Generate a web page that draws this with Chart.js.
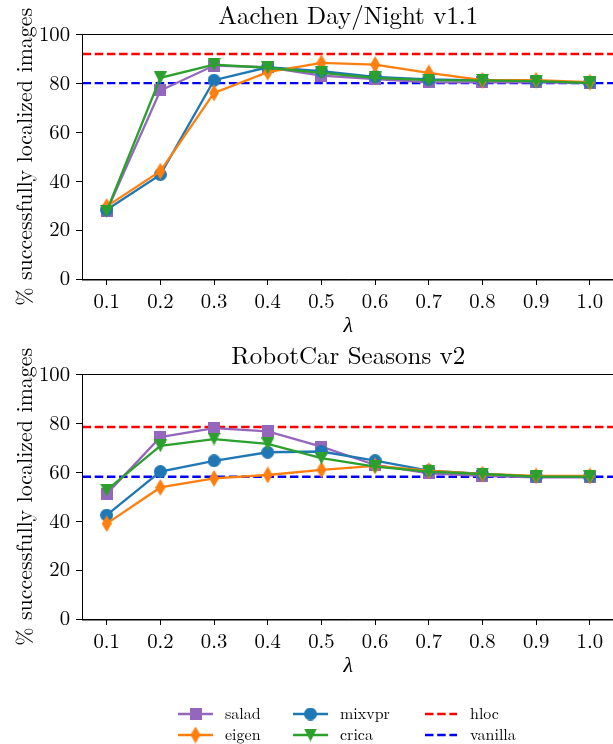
<!DOCTYPE html>
<html><head><meta charset="utf-8">
<script src="https://cdn.jsdelivr.net/npm/chart.js@4.4.1/dist/chart.umd.min.js"></script>
<style>
html,body{margin:0;padding:0;background:#fff;overflow:hidden;width:613px;height:744px;}
#wrap{position:relative;width:613px;height:744px;overflow:hidden;background:#fff;}
canvas{position:absolute;left:0;display:block;}
#fontwarm{position:absolute;left:-9999px;top:0;font-family:'Latin Modern Roman';font-size:20px;}
#fontwarm2{position:absolute;left:-9999px;top:30px;font-family:'Liberation Serif';font-style:italic;font-size:20px;}
</style></head><body>
<div id="fontwarm">Aachen 0.1 % successfully localized images salad eigen</div>
<div id="fontwarm2">λ</div>
<div id="wrap">
<canvas id="c1" width="620" height="340" style="top:0;width:620px;height:340px"></canvas>
<canvas id="c2" width="620" height="404" style="top:340px;width:620px;height:404px"></canvas>
</div>
<script>
// ---------- data ----------
const lambdas = [0.1, 0.2, 0.3, 0.4, 0.5, 0.6, 0.7, 0.8, 0.9, 1.0];
const xTickLabels = ['0.1','0.2','0.3','0.4','0.5','0.6','0.7','0.8','0.9','1.0'];
const yTicks = [0, 20, 40, 60, 80, 100];
const seriesNames = ['salad', 'eigen', 'mixvpr', 'crica'];
const refNames = ['hloc', 'vanilla'];

const aachenTitle = 'Aachen Day/Night v1.1';
const aachenSalad  = [27.7, 77.1, 87.3, 86.6, 83.2, 81.8, 80.4, 80.4, 80.4, 80.1];
const aachenEigen  = [29.7, 44.1, 76.1, 84.6, 88.4, 87.7, 84.3, 81.3, 81.3, 80.5];
const aachenMixvpr = [28.3, 42.7, 81.3, 86.6, 85.0, 82.7, 81.6, 81.2, 80.9, 80.2];
const aachenCrica  = [27.7, 82.3, 87.7, 86.4, 84.3, 82.3, 81.3, 81.2, 80.9, 80.2];
const aachenHloc = 92.0;
const aachenVanilla = 80.1;

const robotcarTitle = 'RobotCar Seasons v2';
const robotcarSalad  = [51.1, 74.4, 78.1, 76.7, 70.5, 63.0, 59.6, 58.5, 57.9, 57.9];
const robotcarEigen  = [39.0, 53.8, 57.5, 58.9, 61.0, 62.6, 60.7, 59.3, 58.5, 58.5];
const robotcarMixvpr = [42.5, 60.3, 64.7, 68.2, 68.5, 64.8, 60.7, 59.3, 58.2, 58.2];
const robotcarCrica  = [52.7, 70.8, 73.6, 71.6, 65.8, 62.3, 60.3, 59.3, 58.2, 58.2];
const robotcarHloc = 78.5;
const robotcarVanilla = 58.2;

// ---------- styles ----------
const FONT = '"Latin Modern Roman", "Liberation Serif", serif';
const LAMBDA_FONT = '"Liberation Serif", serif';
const X_MIN = 0.055, X_MAX = 1.045;
const colors = {salad:'#9467bd', eigen:'#ff7f0e', mixvpr:'#1f77b4', crica:'#2ca02c', hloc:'#ff0000', vanilla:'#0000ff'};
const drawOrder = {hloc:6, vanilla:5, salad:4, mixvpr:3, eigen:2, crica:1};

function makeMarker(kind, color) {
  const sizes = {square:[12,12], diamond:[10,17], circle:[13,13], tri:[13,13]};
  const [w, h] = sizes[kind];
  const c = document.createElement('canvas');
  c.width = w; c.height = h;
  const g = c.getContext('2d');
  g.fillStyle = color;
  g.beginPath();
  if (kind === 'square') g.rect(0, 0, w, h);
  else if (kind === 'diamond') { g.moveTo(w/2,0); g.lineTo(w,h/2); g.lineTo(w/2,h); g.lineTo(0,h/2); g.closePath(); }
  else if (kind === 'circle') g.arc(w/2, h/2, w/2, 0, Math.PI*2);
  else { g.moveTo(0,0); g.lineTo(w,0); g.lineTo(w/2,h); g.closePath(); }
  g.fill();
  return c;
}
const markers = {
  salad: makeMarker('square', colors.salad),
  eigen: makeMarker('diamond', colors.eigen),
  mixvpr: makeMarker('circle', colors.mixvpr),
  crica: makeMarker('tri', colors.crica)
};
const LINE_W = 2.3, DASH = [8.5, 3.7], DASH_W = 2.4;

const framePlugin = {
  id: 'frame',
  afterDatasetsDraw(chart) {
    const a = chart.chartArea, ctx = chart.ctx;
    ctx.save();
    ctx.strokeStyle = '#000'; ctx.lineWidth = 1;
    ctx.strokeRect(Math.round(a.left) + 0.5 - 1, Math.round(a.top) + 0.5 - 1, a.right - a.left, a.bottom - a.top + 1);
    ctx.restore();
  }
};

const legendPlugin = {
  id: 'customLegend',
  afterDraw(chart, args, opts) {
    if (!opts || !opts.items) return;
    const ctx = chart.ctx;
    ctx.save();
    ctx.font = '16px ' + FONT;
    ctx.fillStyle = '#000';
    ctx.textBaseline = 'alphabetic';
    for (const it of opts.items) {
      ctx.beginPath();
      ctx.strokeStyle = colors[it.name];
      if (it.dash) { ctx.setLineDash(DASH); ctx.lineWidth = DASH_W; }
      else { ctx.setLineDash([]); ctx.lineWidth = LINE_W; }
      ctx.moveTo(it.x0, it.y); ctx.lineTo(it.x1, it.y); ctx.stroke();
      ctx.setLineDash([]);
      if (markers[it.name]) {
        const m = markers[it.name];
        ctx.drawImage(m, (it.x0 + it.x1) / 2 - m.width / 2, it.y - m.height / 2);
      }
      ctx.fillText(it.name, it.tx, it.y + 4.5);
    }
    ctx.restore();
  }
};

function buildChart(id, title, values, hloc, vanilla, legendItems) {
  const datasets = [];
  seriesNames.forEach((name, i) => {
    datasets.push({
      label: name,
      data: lambdas.map((l, j) => ({x: l, y: values[i][j]})),
      borderColor: colors[name], backgroundColor: colors[name],
      borderWidth: LINE_W, pointStyle: markers[name], pointRadius: 6,
      pointBorderWidth: 0, order: drawOrder[name], tension: 0, clip: false
    });
  });
  [[refNames[0], hloc], [refNames[1], vanilla]].forEach(([name, v]) => {
    datasets.push({
      label: name,
      data: [{x: X_MIN, y: v}, {x: X_MAX, y: v}],
      borderColor: colors[name], borderWidth: DASH_W, borderDash: DASH,
      pointRadius: 0, order: drawOrder[name]
    });
  });
  const bottomPad = legendItems ? 64 : 0;
  return new Chart(document.getElementById(id), {
    type: 'line',
    data: {datasets},
    options: {
      responsive: false, animation: false, events: [],
      layout: {padding: {left: 0, right: 5.4, top: 0, bottom: bottomPad}},
      plugins: {
        legend: {display: false}, tooltip: {enabled: false},
        title: {display: true, text: title, fullSize: false, color: '#000',
                font: {family: FONT, size: 25, weight: 'normal'}, padding: {top: 1, bottom: 3.5}},
        customLegend: {items: legendItems}
      },
      scales: {
        x: {
          type: 'linear', min: X_MIN, max: X_MAX,
          afterBuildTicks: s => { s.ticks = lambdas.map(v => ({value: v})); },
          afterFit: s => { s.height = 61; },
          ticks: {callback: (v, i) => xTickLabels[i], color: '#000', padding: 4,
                  font: {family: FONT, size: 20.7}, maxRotation: 0, autoSkip: false},
          grid: {drawOnChartArea: false, drawTicks: true, tickLength: 6, color: '#000', lineWidth: 1},
          border: {display: true, color: '#000', width: 1},
          title: {display: true, text: 'λ', color: '#000',
                  font: {family: LAMBDA_FONT, size: 22, style: 'italic'}, padding: {top: 0, bottom: 1}}
        },
        y: {
          min: 0, max: 100,
          afterBuildTicks: s => { s.ticks = yTicks.map(v => ({value: v})); },
          afterFit: s => { s.width = 82.5; },
          ticks: {color: '#000', padding: 6, font: {family: FONT, size: 20.7}},
          grid: {drawOnChartArea: false, drawTicks: true, tickLength: 6.5, color: '#000', lineWidth: 1},
          border: {display: true, color: '#000', width: 1},
          title: {display: true, text: '% successfully localized images', color: '#000',
                  font: {family: FONT, size: 22}, padding: {top: 12, bottom: 0}}
        }
      }
    },
    plugins: [framePlugin, legendPlugin]
  });
}

const legendItems = [
  {name: 'salad',   x0: 178, x1: 213, tx: 225, y: 374},
  {name: 'eigen',   x0: 178, x1: 213, tx: 225, y: 395},
  {name: 'mixvpr',  x0: 293, x1: 328, tx: 340, y: 374},
  {name: 'crica',   x0: 293, x1: 328, tx: 340, y: 395},
  {name: 'hloc',    x0: 425, x1: 457, tx: 470, y: 374, dash: true},
  {name: 'vanilla', x0: 425, x1: 457, tx: 470, y: 395, dash: true}
];

function draw() {
  buildChart('c1', aachenTitle, [aachenSalad, aachenEigen, aachenMixvpr, aachenCrica], aachenHloc, aachenVanilla, null);
  buildChart('c2', robotcarTitle, [robotcarSalad, robotcarEigen, robotcarMixvpr, robotcarCrica], robotcarHloc, robotcarVanilla, legendItems);
}
if (document.fonts && document.fonts.load) {
  Promise.all([
    document.fonts.load('20px "Latin Modern Roman"', 'A0'),
    document.fonts.load('italic 20px "Liberation Serif"', 'λ'),
    document.fonts.ready
  ]).then(draw, draw);
} else { draw(); }
</script>
</body></html>
